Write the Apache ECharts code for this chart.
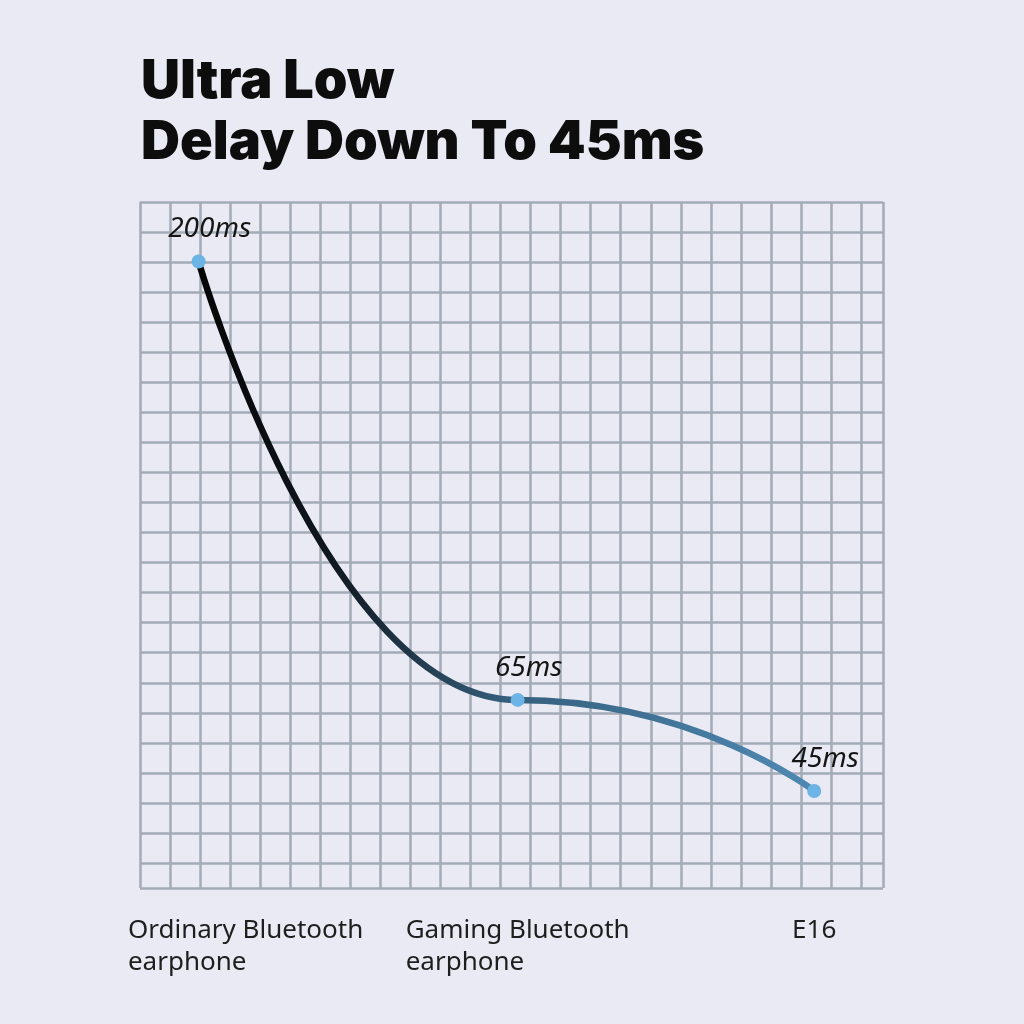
<!DOCTYPE html>
<html>
<head>
<meta charset="utf-8">
<style>
  html, body { margin: 0; padding: 0; background: #eaeaf4; }
  #chart { width: 1024px; height: 1024px; }
</style>
<script src="https://cdn.jsdelivr.net/npm/echarts@6/dist/echarts.min.js"></script>
</head>
<body>
<div id="chart"></div>
<script>
// ---- data ----
// The chart is illustrative (not to scale); positions are measured in grid cells.
var titleLines = ['Ultra Low', 'Delay Down To 45ms'];
var categories = ['Ordinary Bluetooth\nearphone', 'Gaming Bluetooth\nearphone', 'E16'];
var delayLabels = ['200ms', '65ms', '45ms'];
var cellX = [1.95, 12.57, 22.44];   // horizontal position, grid cells from left
var cellY = [1.98, 16.57, 19.6];    // vertical position, grid cells from top
var gridCols = 24.73;
var gridRows = 22.83;

var chart = echarts.init(document.getElementById('chart'), null, { renderer: 'canvas' });

var points = cellX.map(function (x, i) { return [x, cellY[i]]; });

var option = {
  backgroundColor: '#eaeaf4',
  animation: false,
  title: {
    text: titleLines.join('\n'),
    left: 136,
    top: 46,
    textStyle: {
      fontFamily: 'Inter',
      fontWeight: 900,
      fontSize: 54,
      lineHeight: 61,
      color: '#0d0d0d'
    }
  },
  grid: { left: 140, top: 202, right: 141, bottom: 136, containLabel: false },
  xAxis: [
    {
      type: 'value', min: 0, max: gridCols, interval: 1,
      axisLine: { show: false }, axisTick: { show: false }, axisLabel: { show: false },
      splitLine: { show: true, lineStyle: { color: '#a3abb7', width: 2.5 } }
    },
    {
      type: 'value', min: 0, max: gridCols, position: 'bottom',
      axisLine: { show: false }, axisTick: { show: false }, splitLine: { show: false },
      axisLabel: {
        show: true,
        customValues: cellX,
        margin: 27,
        align: 'center',
        verticalAlign: 'top',
        formatter: function (val) {
          var idx = cellX.indexOf(val);
          if (idx < 0) return '';
          var style = idx === 0 ? 'first' : 't';
          return categories[idx].split('\n').map(function (s) { return '{' + style + '|' + s + '}'; }).join('\n');
        },
        rich: {
          t: { fontFamily: 'Noto Sans', fontSize: 26, lineHeight: 32, color: '#1e1e1e', align: 'left' },
          first: { fontFamily: 'Noto Sans', fontSize: 26, lineHeight: 32, color: '#1e1e1e', align: 'left', padding: [0, 0, 0, 94] }
        }
      }
    }
  ],
  yAxis: {
    type: 'value', min: 0, max: gridRows, interval: 1, inverse: true,
    axisLine: { show: false }, axisTick: { show: false }, axisLabel: { show: false },
    splitLine: { show: true, lineStyle: { color: '#a3abb7', width: 2.5 } }
  },
  series: [{
    type: 'line',
    xAxisIndex: 0,
    data: points,
    smooth: 0.6,
    smoothMonotone: 'x',
    symbol: 'circle',
    symbolSize: 14,
    itemStyle: { color: '#6cb3e6' },
    lineStyle: {
      width: 6.5,
      color: {
        type: 'linear', x: 0, y: 0, x2: 1, y2: 0,
        colorStops: [
          { offset: 0, color: '#050505' },
          { offset: 0.22, color: '#101820' },
          { offset: 0.5, color: '#355f7d' },
          { offset: 1, color: '#4f8ab4' }
        ]
      }
    },
    label: {
      show: true,
      position: 'top',
      distance: 11,
      offset: [11, 0],
      formatter: function (p) { return delayLabels[p.dataIndex]; },
      fontFamily: 'Noto Sans',
      fontStyle: 'italic',
      fontSize: 28,
      color: '#151515'
    },
    z: 5
  }]
};
chart.setOption(option);
</script>
</body>
</html>
